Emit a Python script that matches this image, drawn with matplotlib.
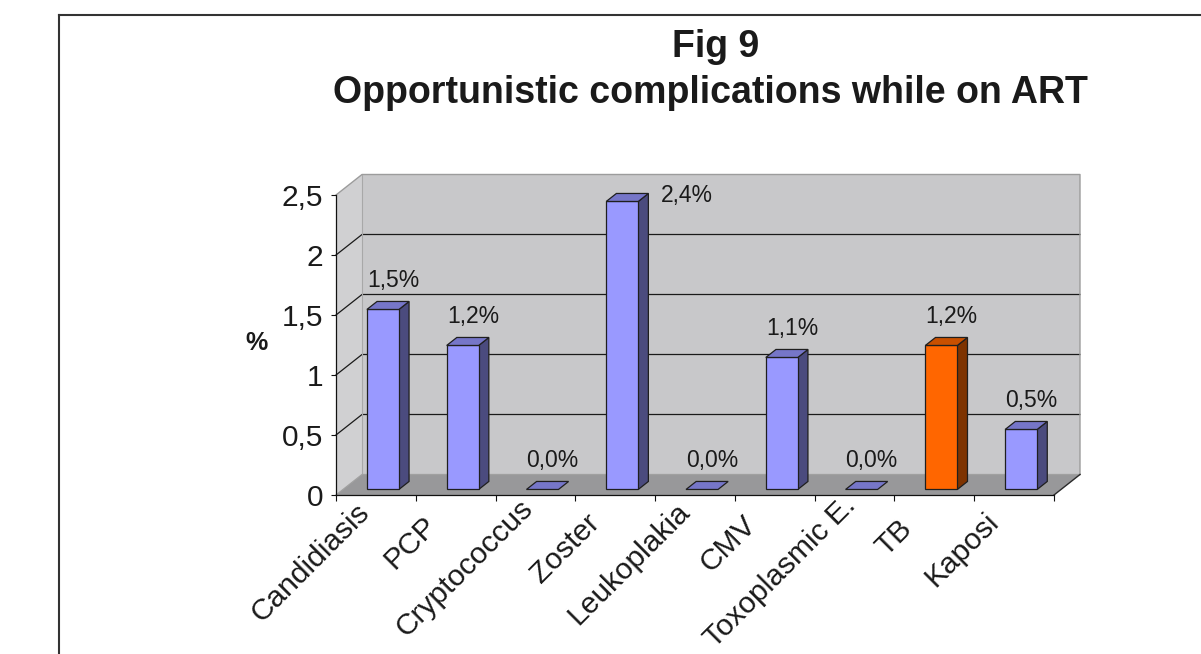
import numpy as np
import matplotlib
matplotlib.use("Agg")
import matplotlib.pyplot as plt
from matplotlib.patches import Polygon
from matplotlib.lines import Line2D
from matplotlib.font_manager import FontProperties
import matplotlib.transforms as mtransforms

# ---- data -------------------------------------------------------------
categories = ["Candidiasis", "PCP", "Cryptococcus", "Zoster", "Leukoplakia",
              "CMV", "Toxoplasmic E.", "TB", "Kaposi"]
values = [1.5, 1.2, 0.0, 2.4, 0.0, 1.1, 0.0, 1.2, 0.5]
highlighted = ["TB"]
yticks = [0, 0.5, 1, 1.5, 2, 2.5]
title_lines = ["Fig 9", "Opportunistic complications while on ART"]
ylabel = "%"

# ---- style -------------------------------------------------------------
FONT = "Liberation Sans"
plt.rcParams["font.family"] = FONT
TEXT = "#1a1a1a"
BLUE = dict(front="#9999FF", top="#7676C8", side="#4B4B7E")
ORANGE = dict(front="#FF6600", top="#C85000", side="#7E3300")
EDGE = "#1f1f1f"

W, H, DPI = 1201, 654, 100
fig = plt.figure(figsize=(W / DPI, H / DPI), dpi=DPI)
fig.patch.set_facecolor("white")

# front plane of the 3D box (pixels from the top-left corner)
left_px, right_px, base_px, top_px = 336, 1054, 495, 195
ymax = yticks[-1]
ax = fig.add_axes([left_px / W, 1 - base_px / H,
                   (right_px - left_px) / W, (base_px - top_px) / H])
n = len(categories)
x0, x1 = -0.5, n - 0.5
ax.set_xlim(x0, x1)
ax.set_ylim(0, ymax)
ax.patch.set_visible(False)

# depth of the box, converted to data units
px_per_cat = (right_px - left_px) / n
px_per_unit = (base_px - top_px) / ymax
ddx = 26 / px_per_cat
ddy = 20.5 / px_per_unit

# walls and floor
ax.add_patch(Polygon([(x0 + ddx, ddy), (x1 + ddx, ddy), (x1 + ddx, ymax + ddy),
                      (x0 + ddx, ymax + ddy)], closed=True, fc="#C8C8CA",
                     ec="none", clip_on=False, zorder=1))
ax.add_patch(Polygon([(x0, 0), (x0 + ddx, ddy), (x0 + ddx, ymax + ddy), (x0, ymax)],
                     closed=True, fc="#D0D0D2", ec="none", clip_on=False, zorder=1))
ax.add_patch(Polygon([(x0, 0), (x1, 0), (x1 + ddx, ddy), (x0 + ddx, ddy)],
                     closed=True, fc="#98989A", ec="none", clip_on=False, zorder=1.2))

# gridlines across side wall and back wall
for v in yticks[1:-1]:
    ax.plot([x0, x0 + ddx, x1 + ddx], [v, v + ddy, v + ddy], color="#1a1a1a",
            lw=0.9, clip_on=False, zorder=1.1, solid_joinstyle="miter")
# wall outlines
ax.plot([x0, x0 + ddx, x1 + ddx, x1 + ddx], [ymax, ymax + ddy, ymax + ddy, ddy],
        color="#9c9c9c", lw=1.0, clip_on=False, zorder=1.1)
ax.plot([x0 + ddx, x0 + ddx], [ddy, ymax + ddy], color="#a8a8a8", lw=0.8,
        clip_on=False, zorder=1.1)
ax.plot([x0, x0 + ddx, x1 + ddx], [0, ddy, ddy], color="#a0a0a0", lw=0.9,
        clip_on=False, zorder=1.3)
ax.plot([x1, x1 + ddx], [0, ddy], color="#2a2a2a", lw=1.0, clip_on=False, zorder=1.3)

# bars
bw = 32 / px_per_cat
f0, f1 = 0.27, 0.66
ex, ey = (f1 - f0) * ddx, (f1 - f0) * ddy
renderer = fig.canvas.get_renderer()
lab_prop = FontProperties(family=FONT, size=16.5)
for i, (cat, v) in enumerate(zip(categories, values)):
    col = ORANGE if cat in highlighted else BLUE
    fx0 = i - bw / 2 + f0 * ddx
    fx1 = fx0 + bw
    fy = f0 * ddy
    kw = dict(closed=True, ec=EDGE, lw=0.9, joinstyle="miter", clip_on=False, zorder=3)
    if v > 0:
        ax.add_patch(Polygon([(fx1, fy), (fx1 + ex, fy + ey), (fx1 + ex, fy + ey + v),
                              (fx1, fy + v)], fc=col["side"], **kw))
        ax.add_patch(Polygon([(fx0, fy), (fx1, fy), (fx1, fy + v), (fx0, fy + v)],
                             fc=col["front"], **kw))
    ax.add_patch(Polygon([(fx0, fy + v), (fx1, fy + v), (fx1 + ex, fy + ey + v),
                          (fx0 + ex, fy + ey + v)], fc=col["top"], **kw))

    # value label above the bar, or beside it when it would leave the box
    label = f"{v:.1f}".replace(".", ",") + "%"
    top_disp = ax.transData.transform((i + f1 * ddx, v + f1 * ddy))
    wall_top = ax.transData.transform((0, ymax + ddy))[1]
    _, lh, ld = renderer.get_text_width_height_descent(label, lab_prop, ismath=False)
    if top_disp[1] + 14 + (lh - ld) > wall_top:
        tr = mtransforms.offset_copy(ax.transData, fig=fig, x=12 * 0.72, y=-9 * 0.72,
                                     units="points")
        ax.text(fx1 + ex, v + fy + ey, label, transform=tr, ha="left", va="baseline",
                fontproperties=lab_prop, color=TEXT, clip_on=False, zorder=4)
    else:
        tr = mtransforms.offset_copy(ax.transData, fig=fig, x=0, y=14 * 0.72,
                                     units="points")
        ax.text(i + f1 * ddx, v + f1 * ddy, label, transform=tr, ha="center",
                va="baseline", fontproperties=lab_prop, color=TEXT, clip_on=False,
                zorder=4)

# axes lines and ticks
for s in ("top", "right"):
    ax.spines[s].set_visible(False)
for s in ("left", "bottom"):
    ax.spines[s].set_color("#111111")
    ax.spines[s].set_linewidth(0.9)
    ax.spines[s].set_zorder(3.5)
ax.set_yticks(yticks, labels=[f"{t:g}".replace(".", ",") for t in yticks])
ax.set_xticks(np.arange(n + 1) - 0.5, labels=[""] * (n + 1))
ax.tick_params(axis="y", direction="out", length=3.6, width=0.8, pad=5.8,
               labelsize=21.5, colors="#111111", labelcolor=TEXT)
ax.tick_params(axis="x", direction="out", length=4.3, width=0.8, colors="#111111")

# rotated category labels: slide along the 45 degree direction by length,
# then lift perpendicular to the text so the cap line meets the anchor
cat_prop = FontProperties(family=FONT, size=21.5)
lift = 15
for i, cat in enumerate(categories):
    w, _, _ = renderer.get_text_width_height_descent(cat, cat_prop, ismath=False)
    d = max(45 - 0.203 * w, 0)
    off_x = -0.707 * d - 0.707 * lift
    off_y = -(0.707 * d + 4) + 0.707 * lift
    tr = mtransforms.offset_copy(ax.transData, fig=fig, x=off_x * 0.72,
                                 y=off_y * 0.72, units="points")
    ax.text(i, 0, cat, transform=tr, rotation=45, rotation_mode="anchor",
            ha="right", va="top", fontproperties=cat_prop, color=TEXT, clip_on=False)

# axis title and chart title
fig.text(256 / W, 1 - 343 / H, ylabel, ha="center", va="center", fontsize=18,
         weight="bold", color=TEXT)
fig.text(716 / W, 1 - 57 / H, title_lines[0], ha="center", va="baseline",
         fontsize=27, weight="bold", color=TEXT)
fig.text(710 / W, 1 - 103 / H, title_lines[1], ha="center", va="baseline",
         fontsize=27, weight="bold", color=TEXT)

# chart frame (continues past the right and bottom edges)
frame_kw = dict(color="#333333", lw=1.5, transform=fig.transFigure, solid_capstyle="projecting")
fig.add_artist(Line2D([59 / W, 1.01], [1 - 15 / H, 1 - 15 / H], **frame_kw))
fig.add_artist(Line2D([59 / W, 59 / W], [1 - 15 / H, -0.01], **frame_kw))

fig.savefig("out.png", dpi=DPI, facecolor="white")
